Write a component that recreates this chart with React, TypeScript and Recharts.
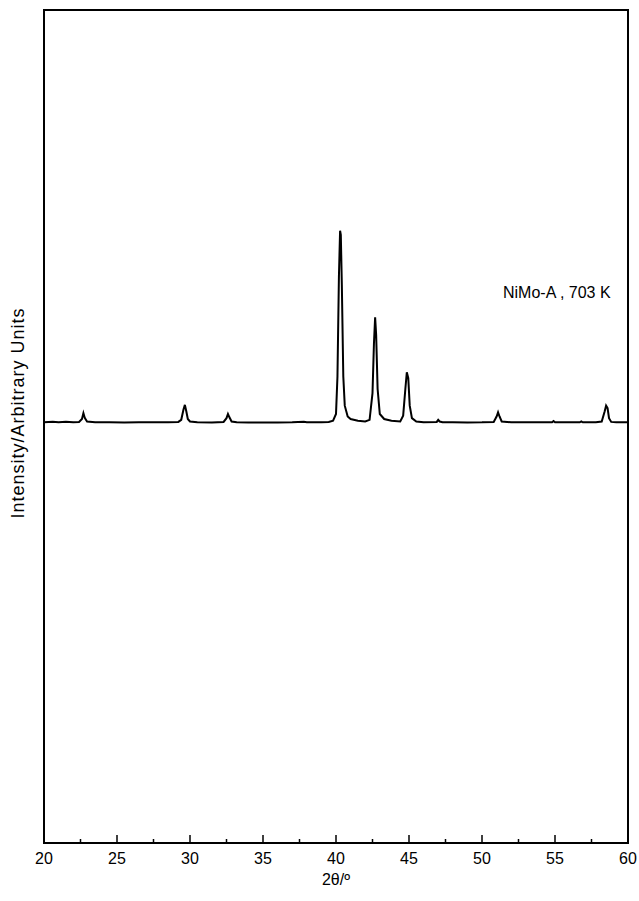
import React from 'react';
import { LineChart, Line, XAxis, YAxis, ReferenceArea, Label } from 'recharts';

const twoTheta = [
  20.0, 20.6, 21.0, 21.5, 22.0, 22.4, 22.6, 22.7, 22.8, 22.95, 23.5, 24.5, 25.5, 26.5, 27.5, 28.5,
  29.2, 29.4, 29.55, 29.65, 29.75, 29.85, 30.0, 30.5, 31.5, 32.3, 32.5, 32.6, 32.7, 32.85, 33.2,
  34.0, 35.0, 36.0, 37.0, 37.8, 38.0, 39.0, 39.5, 39.8, 40.0, 40.1, 40.2, 40.28, 40.33, 40.4, 40.5,
  40.6, 40.8, 41.0, 41.5, 42.0, 42.3, 42.5, 42.6, 42.68, 42.75, 42.85, 43.0, 43.3, 43.8, 44.4, 44.6,
  44.75, 44.85, 44.95, 45.05, 45.2, 45.5, 46.0, 46.9, 47.0, 47.1, 47.3, 48.0, 49.0, 50.0, 50.8, 51.0,
  51.1, 51.2, 51.35, 52.0, 53.0, 54.8, 54.9, 55.0, 56.0, 56.7, 56.8, 56.9, 57.8, 58.2, 58.4, 58.5,
  58.6, 58.7, 58.85, 59.2, 60.0,
];
const intensity = [
  505, 505.8, 505.2, 505.6, 505.1, 505.5, 509, 516, 510, 506, 505, 505.2, 504.8, 505, 505, 505,
  505.5, 508, 520, 526, 518, 509, 506, 505, 504.8, 505.5, 510, 515, 511, 506, 505,
  504.8, 504.7, 504.8, 505, 505.6, 505, 505, 505.5, 507, 515, 560, 680, 735, 730, 670, 560,
  525, 512, 509, 507, 506, 508, 540, 600, 631, 610, 545, 515, 509, 507, 506, 513,
  545, 565, 558, 525, 510, 506, 505, 505.5, 508, 506, 505, 505, 504.8, 505, 505.5, 512,
  517, 512, 506, 505, 505, 505, 506.5, 505, 505, 505, 506, 505, 505, 506, 518, 525,
  522, 510, 505.5, 505, 505,
];
const xTicks = [20, 22.5, 25, 27.5, 30, 32.5, 35, 37.5, 40, 42.5, 45, 47.5, 50, 52.5, 55, 57.5, 60];
const majorTickLabels = ['20', '25', '30', '35', '40', '45', '50', '55', '60'];

const data = twoTheta.map((x, i) => ({ x, y: intensity[i] }));

const FONT = '"Liberation Sans", Arial, sans-serif';

const XTick = (props: any) => {
  const { x, y, payload } = props;
  const v = payload.value as number;
  const label = String(v);
  const major = majorTickLabels.includes(label);
  return (
    <g>
      <line x1={x} x2={x} y1={y} y2={y - (major ? 8 : 4)} stroke="#000" strokeWidth={1.5} />
      {major && (
        <text x={x} y={y + 21} textAnchor="middle" fontFamily={FONT} fontSize={16} fill="#000">
          {label}
        </text>
      )}
    </g>
  );
};

export default function App() {
  return (
    <div style={{ position: 'fixed', left: 0, top: 0, width: 639, height: 901, background: '#fff' }}>
      <LineChart
        width={639}
        height={901}
        data={data}
        margin={{ top: 10, right: 11, bottom: 0, left: 44 }}
      >
        <XAxis
          dataKey="x"
          type="number"
          domain={[20, 60]}
          ticks={xTicks}
          interval={0}
          tickSize={0}
          tickMargin={0}
          tickLine={false}
          axisLine={false}
          tick={<XTick />}
          height={58}
        >
          <Label
            value="2θ/º"
            position="insideBottom"
            offset={16}
            style={{ fontFamily: FONT, fontSize: 16, fill: '#000' }}
          />
        </XAxis>
        <YAxis hide domain={[0, 1000]} type="number" allowDataOverflow />
        <ReferenceArea x1={20} x2={60} y1={0} y2={1000} fill="none" stroke="#000" strokeWidth={2} fillOpacity={0} />
        <Line
          type="linear"
          dataKey="y"
          stroke="#000"
          strokeWidth={2}
          dot={false}
          isAnimationActive={false}
        />
      </LineChart>
      <div
        style={{
          position: 'absolute',
          left: 18,
          top: 413,
          transform: 'translate(-50%, -50%) rotate(-90deg)',
          whiteSpace: 'nowrap',
          fontFamily: FONT,
          fontSize: 18,
          letterSpacing: 1,
          color: '#000',
        }}
      >
        Intensity/Arbitrary Units
      </div>
      <div
        style={{
          position: 'absolute',
          left: 503,
          top: 284,
          whiteSpace: 'nowrap',
          fontFamily: FONT,
          fontSize: 16,
          color: '#000',
        }}
      >
        NiMo-A , 703 K
      </div>
    </div>
  );
}
